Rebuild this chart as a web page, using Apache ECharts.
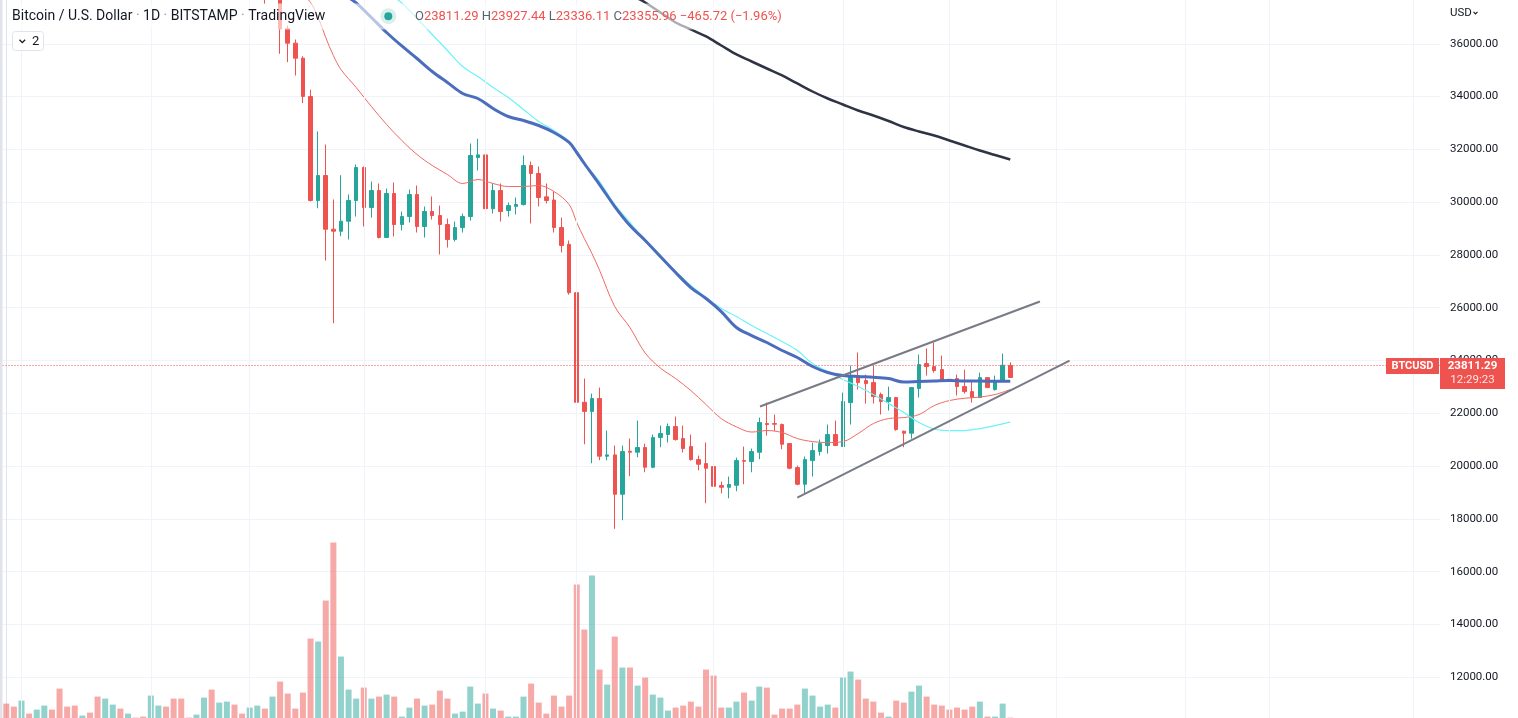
<!DOCTYPE html>
<html><head><meta charset="utf-8">
<script src="https://cdn.jsdelivr.net/npm/echarts@6/dist/echarts.min.js"></script>
<style>html,body{margin:0;padding:0;background:#fff;overflow:hidden;width:1518px;height:718px;position:relative}
#c{position:absolute;left:0;top:-9.48px;width:1518px;height:738.88px}</style>
</head><body><div id="c"></div>
<script>
// ---------- data ----------
const startDate = [2022, 2, 30];   // 2022-03-30 (month 0-based)
const totalSlots = 189;            // visible day slots incl. empty future space
// [open, high, low, close]
const ohlc = [
[47460,47700,46600,47070],[47070,47600,45200,45530],[45530,46700,44200,46300],[46300,47200,45700,45830],
[45830,47450,45550,46430],[46430,46900,45150,46600],[46600,47150,45400,45500],[45500,45500,43100,43200],
[43200,43900,42750,43050],[43050,43950,42100,42270],[42270,42800,42130,42760],[42760,43400,42000,42160],
[42160,42400,39300,39530],[39530,40700,39250,40080],[40080,41550,39600,41150],[41150,41500,39600,39940],
[39940,40850,39800,40550],[40550,40700,40000,40400],[40400,40600,39600,39700],[39700,41100,38550,40800],
[40800,41750,40550,41500],[41500,42950,40900,41370],[41370,42950,39800,40480],[40480,40800,39200,39710],
[39710,39950,39300,39470],[39470,39900,39200,39600],[39600,40600,38200,40430],[40430,40800,37900,38110],
[38110,39450,37900,39240],[39240,40400,38900,39740],[39740,39900,38200,38600],[38600,38800,37690,37700],
[37700,38700,37450,38460],[38460,39150,38050,38520],[38520,38650,37510,37730],[37730,39980,37680,39690],
[39690,39850,35621,36568],[36568,36693,35303,36023],[36023,36163,34798,35454],[35454,35530,33749,34003],
[34003,34257,30024,30062],[30062,32677,29770,31009],[31009,32184,27788,28974],[28974,30100,25412,28898],
[28898,31021,28709,29277],[29277,30289,28584,30062],[30062,31426,29455,31312],[31312,31350,29077,29797],
[29797,30782,29417,30441],[30441,30706,28622,28660],[28660,30517,28660,30327],[30327,30744,28698,29152],
[29152,29645,28925,29455],[29455,30479,29228,30289],[30289,30630,28849,29077],[29077,29834,28660,29645],
[29645,30214,29341,29493],[29493,29872,28016,29152],[29152,29379,28281,28584],[28584,29266,28508,29038],
[29038,29569,28849,29455],[29455,32222,29303,31767],[31690,32400,31200,31790],[31790,31990,29341,29752],
[29752,30706,29569,30441],[30441,30706,29266,29645],[29683,29986,29455,29872],[29840,30176,29531,29910],
[29910,31767,29872,31388],[31388,31540,29190,31085],[31085,31350,29834,30176],[30200,30706,29948,30062],
[30080,30403,28849,29038],[29038,29417,28092,28357],[28400,28546,26494,26570],[26570,26873,21941,22418],
[22418,23316,20827,22070],[22070,22747,20107,22558],[22558,22975,20221,20373],[20373,21345,20221,20424],
[20424,20778,17620,18932],[18932,20778,17947,20550],[20563,21042,19614,20525],[20525,21724,20335,20702],
[20702,20853,19765,19955],[19955,21194,19917,21080],[21080,21535,20714,21232],[21194,21611,20891,21497],
[21497,21876,20967,21004],[21042,21535,20512,20663],[20739,21194,20208,20246],[20246,20398,19841,20069],
[20094,20891,18591,19917],[19980,20891,18970,19234],[19260,19413,18970,19196],[19196,19603,18780,19299],
[19273,20322,19046,20208],[20208,20739,19311,20183],[20170,20663,19765,20550],[20525,21838,20259,21649],
[21611,22405,21156,21573],[21611,21951,21320,21586],[21573,21611,20638,20827],[20853,20853,19879,19917],
[19942,20019,19273,19311],[19311,20360,18920,20246],[20208,20891,19603,20587],[20550,21004,20398,20853],
[20777,21573,20474,21194],[21194,21724,20777,20777],[20739,22784,20739,22443],[22405,23808,21573,23400],
[23390,24300,22898,23163],[23239,23466,22367,23125],[23163,23808,22367,22633],[22709,22784,21952,22443],
[22443,23012,22102,22595],[22595,22620,21340,21383],[21320,21345,20714,21245],[21245,23000,21042,22974],
[22936,24225,22595,23846],[23884,24453,23429,23770],[23770,24680,23542,23618],[23655,24187,23220,23239],
[23290,23504,22860,23260],[23315,23466,22671,23012],[23012,23655,22746,22822],[22822,23239,22405,22595],
[22595,23542,22580,23352],[23352,23370,22950,22974],[22898,23429,22860,23239],[23201,24263,23180,23821.68],
[23811.29,23927.44,23336.11,23355.96]
];
const volumes = [
750,600,900,250,450,650,450,1500,600,650,150,300,1100,1000,700,500,250,50,100,1150,
650,600,1000,1000,50,200,1050,1450,800,850,700,250,550,650,500,1100,1850,1250,500,1300,
4000,3850,5900,8800,3100,1450,1000,1550,1000,1100,1200,1100,100,550,1000,650,700,1400,1000,250,
350,1600,750,1250,500,400,100,100,1100,1750,800,250,1150,600,1150,6700,4450,7150,2450,1700,
4100,2550,2550,1650,2050,1200,1050,400,550,650,850,600,2450,2150,550,550,850,1300,900,1600,
1550,200,500,500,700,1500,1150,600,700,550,2050,2350,1950,1000,850,300,100,900,800,1350,
1650,1100,700,650,450,550,450,600,850,100,100,750,50
];
// moving averages: [dayIndex, price]
const maFast = [[39,37868],[40,37565],[41,36997],[42,36239],[43,35557],[44,35026],[46,34344],[48,33624],[50,32942],
[52,32336],[54,31805],[56,31389],[58,31047],[60,30706],[62,30858],[64,30706],[66,30592],[68,30592],[70,30630],
[72,30403],[74,29910],[75,29228],[76,28622],[77,28053],[78,27420],[80,26045],[82,25249],[84,24282],[86,23714],
[88,23316],[90,22862],[92,22331],[94,21800],[96,21486],[98,21289],[100,21346],[102,21270],[104,21042],[106,20928],
[108,20891],[110,20928],[112,21232],[114,21611],[116,21800],[118,21838],[120,21952],[122,22293],[124,22482],
[126,22570],[128,22615],[130,22710],[132,22900]];
const maCyan = [[51,37755],[52,37546],[54,36959],[56,36352],[58,35746],[60,35140],[62,34761],[64,34344],[66,33965],
[68,33510],[70,33056],[72,32715],[74,32298],[75,31881],[76,31464],[78,30782],[80,29910],[82,29228],[84,28546],
[86,27902],[88,27372],[90,26841],[92,26386],[94,25969],[96,25666],[98,25325],[100,25022],[102,24719],[104,24378],
[106,23885],[108,23582],[110,23279],[112,23013],[114,22710],[116,22369],[118,22028],[120,21649],[122,21403],
[124,21346],[126,21346],[128,21422],[130,21535],[132,21668]];
const maBlue = [[45,37755],[46,37546],[48,36997],[50,36428],[52,35917],[54,35443],[56,34950],[58,34533],[60,34117],
[62,33927],[64,33548],[66,33245],[68,33094],[70,32904],[72,32639],[74,32260],[75,31881],[76,31464],[78,30668],
[80,29834],[82,29114],[84,28546],[86,27940],[88,27334],[90,26765],[92,26348],[94,25855],[96,25249],[98,24946],
[100,24681],[102,24378],[104,24113],[106,23772],[108,23544],[110,23430],[112,23392],[114,23367],[116,23316],
[118,23184],[120,23203],[122,23222],[124,23241],[126,23222],[128,23222],[130,23214],[132,23214]];
const maSlow = [[83,37717],[84,37565],[86,37186],[88,36807],[90,36542],[92,36277],[94,35936],[96,35595],[98,35329],
[100,35064],[102,34799],[104,34496],[106,34192],[108,33927],[110,33700],[112,33472],[114,33283],[116,33075],
[118,32847],[120,32677],[122,32525],[124,32336],[126,32146],[128,31957],[130,31786],[132,31615]];
// channel trend lines: [dayIndex, price]
const upperTrend = [[99.1,22255],[135.9,26234]];
const lowerTrend = [[104.0,18807],[139.8,23999]];
// vertical grid (date ticks) day indices
const dateTickIdx = [2,19,32,47,63,75,93,110,124,138,155,166,185];
const priceMin = 10000, priceMax = 38000, priceStep = 2000;
const lastPriceLine = 23811.29;
const countdown = '12:29:23';
const symbolTitle = ['Bitcoin / U.S. Dollar','1D','BITSTAMP','TradingView'];

// ---------- build ----------
const OFF = 9.48;   // chart container is shifted up by this many px
const categories = [];
const d0 = Date.UTC(startDate[0], startDate[1], startDate[2]);
for (let i = 0; i < totalSlots; i++) categories.push(new Date(d0 + i * 86400000).toISOString().slice(0, 10));

const UP = '#26a69a', DOWN = '#ef5350';
const candleData = ohlc.map(([o,h,l,c]) => [o, c, l, h]);
const volData = volumes.map((v, i) => ({
  value: v,
  itemStyle: { color: ohlc[i][3] >= ohlc[i][0] ? 'rgba(38,166,154,0.5)' : 'rgba(239,83,80,0.5)' }
}));
const last = ohlc[ohlc.length - 1], prev = ohlc[ohlc.length - 2];
const chg = last[3] - prev[3];
const pct = chg / prev[3] * 100;
const fmt = v => v.toFixed(2);
const neg = s => s.replace('-', '\u2212');

const FONT = 'Roboto, "Noto Sans", sans-serif';
const chart = echarts.init(document.getElementById('c'), null, { renderer: 'canvas' });

const lineSeries = (data, color, width, z) => ({
  type: 'line', xAxisIndex: 0, yAxisIndex: 0, data, showSymbol: false, symbol: 'none',
  smooth: 0.35, silent: true, z, lineStyle: { color, width }, animation: false
});

chart.setOption({
  animation: false,
  backgroundColor: '#ffffff',
  grid: [
    { left: 2.5, right: 78, top: 0, bottom: 0, outerBoundsMode: 'none' },
    { left: 2.5, right: 78, top: 527.48, bottom: 11.4, outerBoundsMode: 'none' }
  ],
  xAxis: [
    { type: 'category', gridIndex: 0, data: categories, boundaryGap: true, show: false },
    { type: 'category', gridIndex: 1, data: categories, boundaryGap: true, show: false },
    { type: 'value', gridIndex: 0, min: -0.5, max: totalSlots - 0.5, show: false }
  ],
  yAxis: [
    { type: 'value', gridIndex: 0, position: 'right', min: priceMin, max: priceMax, interval: priceStep,
      axisLine: { show: true, lineStyle: { color: '#e0e3eb', width: 1 } },
      axisTick: { show: false },
      splitLine: { show: true, lineStyle: { color: '#f0f3fa', width: 1 } },
      axisLabel: { formatter: v => fmt(v), color: '#131722', fontSize: 11.5, fontFamily: FONT, margin: 10,
                   showMinLabel: false, showMaxLabel: false } },
    { type: 'value', gridIndex: 1, min: 0, max: 10000, show: false }
  ],
  series: [
    { type: 'line', xAxisIndex: 0, yAxisIndex: 0, data: [], z: 0, silent: true,
      markLine: { silent: true, symbol: ['none','none'], label: { show: false }, animation: false,
        lineStyle: { color: '#f0f3fa', width: 1, type: 'solid' },
        data: dateTickIdx.map(i => ({ xAxis: i })) } },
    { type: 'bar', xAxisIndex: 1, yAxisIndex: 1, data: volData, barWidth: 6, silent: true, z: 1 },
    { type: 'candlestick', xAxisIndex: 0, yAxisIndex: 0, data: candleData, barWidth: 4, z: 3, silent: true,
      itemStyle: { color: UP, color0: DOWN, borderColor: UP, borderColor0: DOWN, borderWidth: 1 },
      markLine: { silent: true, symbol: ['none','none'], label: { show: false }, animation: false,
        lineStyle: { color: DOWN, width: 1, type: [1, 2] },
        data: [{ yAxis: lastPriceLine }] } },
    lineSeries(maFast, '#f06a63', 1, 4),
    lineSeries(maCyan, '#6af3f8', 1.2, 4),
    lineSeries(maBlue, '#4a6ebd', 3, 5),
    lineSeries(maSlow, '#2e3443', 2.5, 5),
    { type: 'line', xAxisIndex: 2, yAxisIndex: 0, data: upperTrend, showSymbol: false, symbol: 'none', z: 6, silent: true,
      lineStyle: { color: '#787b86', width: 2 } },
    { type: 'line', xAxisIndex: 2, yAxisIndex: 0, data: lowerTrend, showSymbol: false, symbol: 'none', z: 6, silent: true,
      lineStyle: { color: '#787b86', width: 2 } }
  ]
});

const yLine = chart.convertToPixel({ yAxisIndex: 0 }, lastPriceLine);
const Y = v => v + OFF;
const titleRich = '{t|' + symbolTitle.join('}{d| \u00b7 }{t|') + '}';
const ohlcRich = '{k|O}{v|' + fmt(last[0]) + '} {k|H}{v|' + fmt(last[1]) + '} {k|L}{v|' + fmt(last[2]) +
  '} {k|C}{v|' + fmt(last[3]) + '} {v|' + neg(fmt(chg)) + ' (' + neg(fmt(pct)) + '%)}';

chart.setOption({
  graphic: [
    { type: 'rect', z: 100, silent: true, shape: { x: 0, y: 0, width: 2.5, height: 740 }, style: { fill: '#e0e3eb' } },
    { type: 'rect', z: 100, silent: true, shape: { x: 8, y: Y(3), width: 782, height: 26 }, style: { fill: 'rgba(255,255,255,0.6)' } },
    { type: 'text', z: 101, silent: true, x: 12, y: Y(16),
      style: { text: titleRich, verticalAlign: 'middle', font: '14px ' + FONT,
        rich: { t: { fontSize: 14, fontFamily: FONT, fill: '#131722' }, d: { fontSize: 14, fontFamily: FONT, fill: '#9598a1' } } } },
    { type: 'circle', z: 101, silent: true, shape: { cx: 388.3, cy: Y(15.7), r: 8 }, style: { fill: 'rgba(38,166,154,0.18)' } },
    { type: 'circle', z: 102, silent: true, shape: { cx: 388.3, cy: Y(15.7), r: 4 }, style: { fill: '#26a69a' } },
    { type: 'text', z: 101, silent: true, x: 415, y: Y(16),
      style: { text: ohlcRich, verticalAlign: 'middle', font: '13px ' + FONT,
        rich: { k: { fontSize: 13, fontFamily: FONT, fill: '#5d606b' }, v: { fontSize: 13, fontFamily: FONT, fill: '#ef5350' } } } },
    { type: 'rect', z: 101, silent: true, shape: { x: 12.5, y: Y(31), width: 31, height: 19, r: 3 },
      style: { fill: '#ffffff', stroke: '#e0e3eb', lineWidth: 1 } },
    { type: 'polyline', z: 102, silent: true, shape: { points: [[19.5, Y(39.3)], [22.3, Y(42.2)], [25.1, Y(39.3)]] },
      style: { stroke: '#131722', lineWidth: 1.3, fill: null } },
    { type: 'text', z: 102, silent: true, x: 32, y: Y(41), style: { text: '2', verticalAlign: 'middle', font: '13px ' + FONT, fill: '#131722' } },
    { type: 'text', z: 101, silent: true, x: 1450, y: Y(13), style: { text: 'USD', verticalAlign: 'middle', font: '11.5px ' + FONT, fill: '#131722' } },
    { type: 'polyline', z: 102, silent: true, shape: { points: [[1473.5, Y(11.5)], [1475.5, Y(13.5)], [1477.5, Y(11.5)]] },
      style: { stroke: '#131722', lineWidth: 1.1, fill: null } },
    { type: 'rect', z: 103, silent: true, shape: { x: 1386, y: yLine - 7.5, width: 53, height: 16 }, style: { fill: '#ef5350' } },
    { type: 'text', z: 104, silent: true, x: 1412.5, y: yLine + 0.5,
      style: { text: 'BTCUSD', align: 'center', verticalAlign: 'middle', font: 'bold 11px ' + FONT, fill: '#ffffff' } },
    { type: 'rect', z: 103, silent: true, shape: { x: 1440, y: yLine - 7.5, width: 65, height: 31 }, style: { fill: '#ef5350' } },
    { type: 'text', z: 104, silent: true, x: 1472.5, y: yLine + 0.5,
      style: { text: fmt(lastPriceLine), align: 'center', verticalAlign: 'middle', font: 'bold 11.5px ' + FONT, fill: '#ffffff' } },
    { type: 'text', z: 104, silent: true, x: 1472.5, y: yLine + 14.5,
      style: { text: countdown, align: 'center', verticalAlign: 'middle', font: '11.5px ' + FONT, fill: 'rgba(255,255,255,0.85)' } }
  ]
});
</script>
</body></html>
